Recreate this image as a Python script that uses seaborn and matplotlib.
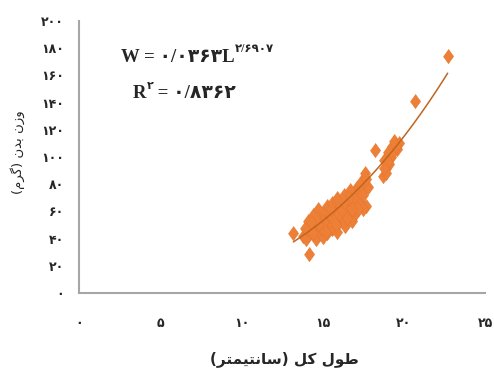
import numpy as np
import pandas as pd
import matplotlib
matplotlib.use("Agg")
import matplotlib.pyplot as plt
import seaborn as sns

# ---- data ----
length_cm = [13.2, 14.15, 18.2, 20.7, 22.7,
             18.7, 18.9, 18.8, 19.0, 19.2, 19.3, 19.4, 19.6, 19.7, 19.1, 18.9,
             19.0, 19.3, 19.5, 18.8,
             17.0, 17.2, 17.1, 17.4, 17.5, 17.6, 17.8, 17.3, 17.6, 17.7, 17.0, 17.5,
             17.3, 17.5, 17.2, 17.7,
             13.8, 13.9, 14.1, 14.0, 14.3, 14.4, 14.5, 14.6, 14.7, 14.8, 14.9, 15.0,
             15.1, 15.2, 15.3, 15.3, 15.5, 15.6, 15.6, 15.8, 15.9, 15.9, 16.0, 16.1,
             16.2, 16.3, 16.4, 16.5, 16.6, 16.7, 16.8, 16.9, 15.4, 14.2, 16.4,
             14.0, 14.4, 14.6, 14.9, 15.1, 15.4, 15.7, 16.0, 16.2, 16.5, 16.8, 16.6,
             15.2, 14.8, 15.8, 16.3, 14.3, 15.5]
weight_g = [44, 29, 105, 141, 174,
            86, 92, 98, 104, 100, 108, 112, 106, 110, 95, 88,
            97, 103, 108, 92,
            66, 72, 78, 75, 84, 80, 78, 68, 88, 64, 58, 62,
            80, 72, 62, 84,
            42, 48, 53, 40, 45, 57, 50, 40, 62, 46, 55, 41,
            60, 50, 64, 44, 56, 66, 47, 60, 70, 45, 52, 64,
            56, 72, 49, 66, 59, 76, 53, 70, 52, 48, 62,
            47, 44, 55, 48, 52, 58, 54, 58, 61, 55, 62, 70,
            45, 51, 50, 67, 52, 62]

fit_a = 0.0363
fit_b = 2.6907
r_squared = 0.8362
fit_range = [13.2, 22.7]

x_ticks = [0, 5, 10, 15, 20, 25]
y_ticks = [0, 20, 40, 60, 80, 100, 120, 140, 160, 180, 200]

# Persian text (presentation forms in visual order)
x_label = "(\uFEAE\uFE98\uFEE4\uFEF4\uFE98\uFEE7\uFE8E\uFEB3) \uFEDE\uFB90 \uFEDD\uFEEE\uFEC3"
y_label = "(\uFEE1\uFEAE\uFB94) \uFEE5\uFEAA\uFE91 \uFEE5\uFEAF\uFEED"

FA = str.maketrans("0123456789.", "\u06F0\u06F1\u06F2\u06F3\u06F4\u06F5\u06F6\u06F7\u06F8\u06F9/")
def fa(s):
    return str(s).translate(FA)

# ---- plot ----
sns.set_theme(style="white")
plt.rcParams["font.family"] = ["DejaVu Sans"]

fig = plt.figure(figsize=(4.94, 3.72), dpi=100)
ax = fig.add_axes([79/494, 1 - 293/372, (485 - 79)/494, (293 - 21)/372])

df = pd.DataFrame({"L": length_cm, "W": weight_g})
diamond = [(0, 1), (0.72, 0), (0, -1), (-0.72, 0)]
sns.scatterplot(data=df, x="L", y="W", ax=ax, marker=diamond, s=108,
                color="#EE7F36", edgecolor="#E2742D", linewidth=0.3, zorder=3)

lx = np.linspace(fit_range[0], fit_range[1], 100)
fit_df = pd.DataFrame({"L": lx, "W": fit_a * lx ** fit_b})
sns.lineplot(data=fit_df, x="L", y="W", ax=ax, color="#C0651F", linewidth=1.1, zorder=4)

ax.set_xlim(0, 25)
ax.set_ylim(0, 200)
ax.set_xticks(x_ticks)
ax.set_xticklabels([fa(t) for t in x_ticks], fontsize=9, fontweight="bold")
ax.set_yticks(y_ticks)
ax.set_yticklabels([fa(t) for t in y_ticks], fontsize=9, fontweight="bold")
ax.tick_params(axis="x", length=0, pad=17)
ax.tick_params(axis="y", length=0, pad=11)
for side in ["top", "right"]:
    ax.spines[side].set_visible(False)
for side in ["left", "bottom"]:
    ax.spines[side].set_color("#A6A6A6")
    ax.spines[side].set_linewidth(1.5)
ax.grid(False)
ax.set_xlabel("")
ax.set_ylabel("")

fig.text(284/494, 1 - 359/372, x_label, ha="center", va="center",
         fontsize=11, fontweight="bold")
fig.text(18/494, 1 - 152/372, y_label, ha="center", va="center",
         rotation=90, fontsize=9.5)

serif = ["Liberation Serif", "DejaVu Sans"]
eq = fig.text(121/494, 1 - 62/372, "W = " + fa(f"{fit_a:.4f}") + "L",
              ha="left", va="baseline", fontsize=13.5, fontweight="bold", family=serif)
ax.annotate(fa(f"{fit_b:.4f}"), xy=(1, 0.62), xycoords=eq, ha="left", va="bottom",
            fontsize=8.5, fontweight="bold", family=serif, annotation_clip=False)

rt = fig.text(133/494, 1 - 98/372, "R", ha="left", va="baseline",
              fontsize=13.5, fontweight="bold", family=serif)
sup = ax.annotate(fa(2), xy=(1, 0.62), xycoords=rt, ha="left", va="bottom",
                  fontsize=8, fontweight="bold", family=serif, annotation_clip=False)
ax.annotate(" = " + fa(f"{r_squared:.4f}"), xy=(1, 0), xycoords=(sup, rt),
            ha="left", va="bottom", fontsize=13.5, fontweight="bold", family=serif,
            annotation_clip=False)

fig.savefig("out.png", dpi=100)
